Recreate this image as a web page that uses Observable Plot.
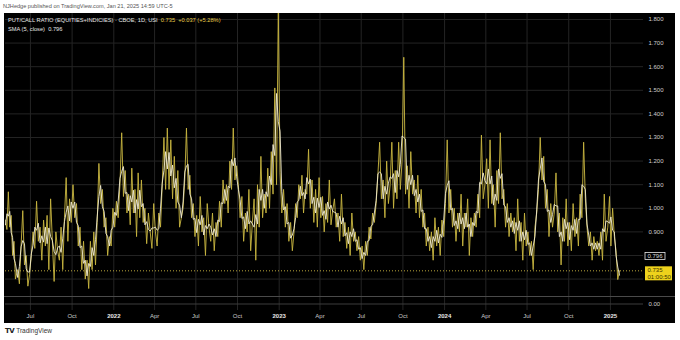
<!DOCTYPE html>
<html><head><meta charset="utf-8">
<script src="https://cdn.jsdelivr.net/npm/d3@7"></script>
<script src="https://cdn.jsdelivr.net/npm/@observablehq/plot@0.6"></script>
<style>
html,body{margin:0;padding:0;background:#fff;width:680px;height:340px;overflow:hidden;font-family:"Liberation Sans",Arial,sans-serif;}
#pub{position:absolute;left:3px;top:3px;font-size:5.6px;color:#555;white-space:nowrap;}
#panel{position:absolute;left:4px;top:13px;width:671px;height:310px;background:#000;}
#main svg,#sub svg{display:block;}
#sub{border-top:1px solid #4a4a4a;}
#legend{position:absolute;left:4px;top:3px;font-size:5.7px;color:#e6e6e6;line-height:9px;white-space:nowrap;}
#legend .y{color:#e8cf4a;}
#foot{position:absolute;left:5px;top:327px;font-size:6.5px;color:#333;white-space:nowrap;}
#foot b{font-family:"DejaVu Sans";font-size:7px;letter-spacing:-0.5px;color:#222;margin-right:2px;}
</style></head><body>
<div id="pub">NJHedge published on TradingView.com, Jan 21, 2025 14:59 UTC-5</div>
<div id="panel">
  <div id="main"></div>
  <div id="sub"></div>
  <div id="legend"></div>
</div>
<div id="foot"><b>TV</b>TradingView</div>
<script>
// ---- data ----
const seriesName = "PUT/CALL RATIO (EQUITIES+INDICIES) · CBOE, 1D, USI";
const smaName = "SMA (5, close)";
const lastClose = 0.735, lastChange = 0.037, lastChangePct = 5.28, smaLast = 0.796;
const countdown = "01:00:50";
const firstDate = "2021-05-07", lastDate = "2025-01-21";
const months = ["2021-05","2021-06","2021-07","2021-08","2021-09","2021-10","2021-11","2021-12",
  "2022-01","2022-02","2022-03","2022-04","2022-05","2022-06","2022-07","2022-08","2022-09","2022-10","2022-11","2022-12",
  "2023-01","2023-02","2023-03","2023-04","2023-05","2023-06","2023-07","2023-08","2023-09","2023-10","2023-11","2023-12",
  "2024-01","2024-02","2024-03","2024-04","2024-05","2024-06","2024-07","2024-08","2024-09","2024-10","2024-11","2024-12",
  "2025-01"];
const values2021 = [
  [0.95,0.91,1.07,0.92,0.97,0.80,0.86,0.70],
  [0.74,0.68,0.84,0.99,0.76,0.80,0.67,0.72],
  [0.80,0.90,0.83,1.03,0.86,0.92,0.78,0.95],
  [0.84,0.97,0.74,1.04,0.86,0.69,0.90,0.82],
  [0.78,0.92,0.74,0.96,1.13,0.86,1.04,0.94],
  [1.10,0.96,1.02,0.84,0.92,0.74,0.86,0.70],
  [0.78,0.66,0.86,0.74,0.90,0.76,0.94,1.19],
  [1.02,1.08,0.92,0.96,0.80,0.88,0.84,1.00]];
const values2022 = [
  [0.92,1.03,0.96,1.10,1.32,1.05,1.16,0.98],
  [1.06,0.93,1.17,0.98,1.08,0.88,1.15,0.96],
  [1.12,0.94,1.00,0.85,0.98,0.90,0.83,1.02],
  [0.90,0.84,0.98,0.92,1.10,1.30,1.08,1.34],
  [1.08,1.29,1.04,1.22,1.00,1.16,0.92,0.96],
  [1.00,1.12,1.34,1.08,1.14,0.96,1.02,0.88],
  [0.97,0.84,1.05,0.90,0.96,0.80,1.02,0.92],
  [0.86,0.98,0.82,0.94,0.88,1.03,0.92,1.12],
  [1.02,1.10,0.98,1.20,1.08,1.34,1.12,1.18],
  [1.10,0.96,1.05,0.86,0.98,0.90,1.08,0.82],
  [0.94,1.04,0.78,1.10,0.92,1.22,0.96,1.06],
  [0.98,1.17,1.00,1.24,1.06,1.51,1.10,1.85]];
const values2023 = [
  [1.15,0.98,1.08,0.92,1.02,0.86,0.94,0.82],
  [0.90,1.02,0.96,1.10,1.04,1.14,0.98,1.08],
  [1.06,1.25,1.00,1.12,0.94,1.08,0.92,1.13],
  [0.96,1.05,0.90,1.02,0.94,1.12,0.93,0.99],
  [1.04,0.92,0.98,0.86,1.06,0.88,0.94,0.83],
  [0.92,0.80,0.98,0.86,0.90,0.82,0.88,0.78],
  [0.84,0.74,0.86,0.80,0.92,0.87,0.98,0.94],
  [1.02,1.14,1.28,1.04,1.12,0.96,1.20,1.02],
  [1.10,1.28,1.00,1.16,1.04,1.28,1.08,1.20],
  [1.64,1.06,1.18,1.00,1.24,1.06,1.12,0.98],
  [1.14,0.96,1.08,0.92,0.98,0.84,0.92,0.82],
  [0.90,0.78,0.96,0.84,0.92,0.80,0.95,0.88]];
const values2024 = [
  [1.02,1.29,0.98,1.08,0.92,1.00,0.86,0.98],
  [0.90,1.06,0.84,0.98,0.92,1.04,0.80,0.96],
  [0.88,0.98,0.92,1.06,0.96,1.31,1.04,1.10],
  [1.21,1.00,1.29,1.02,1.10,0.92,1.16,1.02],
  [1.32,1.04,1.08,0.92,1.02,0.88,0.98,0.90],
  [0.96,0.82,1.04,0.86,0.94,0.78,0.98,0.84],
  [0.90,0.80,0.86,0.74,0.92,0.98,1.08,1.30],
  [1.12,1.22,1.00,1.08,0.88,1.02,0.92,0.98],
  [1.15,0.90,0.98,0.76,0.96,0.86,1.04,0.84],
  [0.94,0.82,1.02,0.88,0.96,0.84,1.06,0.96],
  [1.28,1.04,0.92,0.84,0.90,0.78,0.88,0.82],
  [0.86,0.80,0.90,0.78,1.06,0.86,0.92,1.05]];
const values2025 = [
  [0.84,1.00,0.88,0.82,0.698,0.735]];
const gridTicks = [0.7,0.8,0.9,1.0,1.1,1.2,1.3,1.4,1.5,1.6,1.7,1.8];
const labelTicks = [0.9,1.0,1.1,1.2,1.3,1.4,1.5,1.6,1.7,1.8];
const xTickStart = "2021-07-01", xTickEnd = "2025-01-01";

// ---- build table ----
const monthly = [...values2021, ...values2022, ...values2023, ...values2024, ...values2025];
const data = [];
monthly.forEach((vals, i) => {
  const mStart = new Date(months[i] + "-01T00:00:00Z");
  const mEnd = d3.utcMonth.offset(mStart, 1);
  const n = vals.length;
  vals.forEach((v, j) => {
    let t;
    if (i === 0) {
      const s = new Date(firstDate + "T00:00:00Z");
      t = +s + (j / n) * (mEnd - s);
    } else if (i === monthly.length - 1) {
      const s = new Date(months[i] + "-02T00:00:00Z"), e = new Date(lastDate + "T00:00:00Z");
      t = +s + (j / (n - 1)) * (e - s);
    } else {
      t = +mStart + ((j + 0.5) / n) * (mEnd - mStart);
    }
    data.push({date: new Date(t), value: v});
  });
});

const xTicks = d3.utcMonth.every(3).range(new Date(xTickStart + "T00:00:00Z"), d3.utcDay.offset(new Date(xTickEnd + "T00:00:00Z"), 1));
const fmtTick = d => d.getUTCMonth() === 0 ? d3.utcFormat("%Y")(d) : d3.utcFormat("%b")(d);

const W = 671, ML = 1, MR = 32;
const xScale = {type: "utc", domain: [new Date(firstDate + "T00:00:00Z"), new Date("2025-03-15T00:00:00Z")]};
const gridColor = "#242424";
const lineColor = "#c8b540";
const smaColor = "#f0ebd2";
const font = "Liberation Sans, Arial, sans-serif";

const main = Plot.plot({
  width: W, height: 283,
  marginLeft: ML, marginRight: MR, marginTop: 0, marginBottom: 0,
  style: {background: "transparent", color: "#c8c8c8", fontFamily: font, fontSize: "6px", overflow: "visible"},
  x: {...xScale, axis: null, label: null},
  y: {domain: [0.6262, 1.8254], axis: null, label: null},
  marks: [
    Plot.gridX(xTicks, {stroke: gridColor, strokeOpacity: 1}),
    Plot.gridY(gridTicks, {stroke: gridColor, strokeOpacity: 1}),
    Plot.axisY(labelTicks, {anchor: "right", label: null, tickSize: 0, tickPadding: 5, tickFormat: d3.format(".3f"), fill: "#cfcfcf", fontSize: 6}),
    Plot.ruleY([lastClose], {stroke: "#e8cf4a", strokeDasharray: "1,2", strokeWidth: 0.8}),
    Plot.lineY(data, {x: "date", y: "value", stroke: lineColor, strokeWidth: 1, strokeOpacity: 0.92, clip: true}),
    Plot.lineY(data, Plot.windowY({k: 3, anchor: "middle", reduce: "mean"}, {x: "date", y: "value", stroke: smaColor, strokeWidth: 0.9, clip: true}))
  ]
});
document.getElementById("main").appendChild(main);

// price labels in the right margin, positioned with the plot's own y scale
const ys = main.scale("y");
const svg = d3.select(main);
const xl = W - MR + 2;
const g = svg.append("g").attr("font-family", font).attr("font-size", 6).attr("text-anchor", "start");
const ySma = ys.apply(smaLast);
g.append("rect").attr("x", xl).attr("y", ySma - 3.5).attr("width", 20).attr("height", 7)
  .attr("fill", "#000").attr("stroke", "#e8e8e8").attr("stroke-width", 0.8);
g.append("text").attr("x", xl + 10).attr("y", ySma).attr("dy", "0.35em").attr("text-anchor", "middle")
  .attr("fill", "#d8d8d8").text(d3.format(".3f")(smaLast));
const yLast = ys.apply(lastClose);
g.append("rect").attr("x", xl).attr("y", yLast - 4).attr("width", 27).attr("height", 14)
  .attr("fill", "#eed21c");
g.append("text").attr("x", xl + 2.5).attr("y", yLast).attr("dy", "0.35em").attr("text-anchor", "start").attr("fill", "#3a3300").text(d3.format(".3f")(lastClose));
g.append("text").attr("x", xl + 2.5).attr("y", yLast + 7).attr("dy", "0.35em").attr("text-anchor", "start").attr("fill", "#3a3300").text(countdown);

// lower pane + time axis
const sub = Plot.plot({
  width: W, height: 26,
  marginLeft: ML, marginRight: MR, marginTop: 0, marginBottom: 13,
  style: {background: "transparent", color: "#c8c8c8", fontFamily: font, fontSize: "6px"},
  x: {...xScale, axis: null, label: null},
  y: {domain: [-1, 1], axis: null, label: null},
  marks: [
    Plot.gridX(xTicks, {stroke: gridColor, strokeOpacity: 1}),
    Plot.ruleY([0], {stroke: "#3c3c3c"}),
    Plot.axisY([0], {anchor: "right", label: null, tickSize: 0, tickPadding: 5, tickFormat: d3.format(".2f"), fill: "#cfcfcf", fontSize: 6}),
    Plot.axisX(xTicks, {anchor: "bottom", label: null, tickSize: 0, tickPadding: 3, tickFormat: fmtTick, fill: "#c8c8c8", fontSize: 6})
  ]
});
document.getElementById("sub").appendChild(sub);
d3.select(sub).selectAll("text").filter(function(){ return /^\d{4}$/.test(this.textContent); })
  .attr("font-weight", "bold").attr("fill", "#e8e8e8");

// legend overlay
document.getElementById("legend").innerHTML =
  seriesName + " &nbsp;<span class='y'>" + d3.format(".3f")(lastClose) + " &nbsp;+" + d3.format(".3f")(lastChange) +
  " (+" + d3.format(".2f")(lastChangePct) + "%)</span><br>" + smaName + " &nbsp;" + d3.format(".3f")(smaLast);
</script>
</body></html>
